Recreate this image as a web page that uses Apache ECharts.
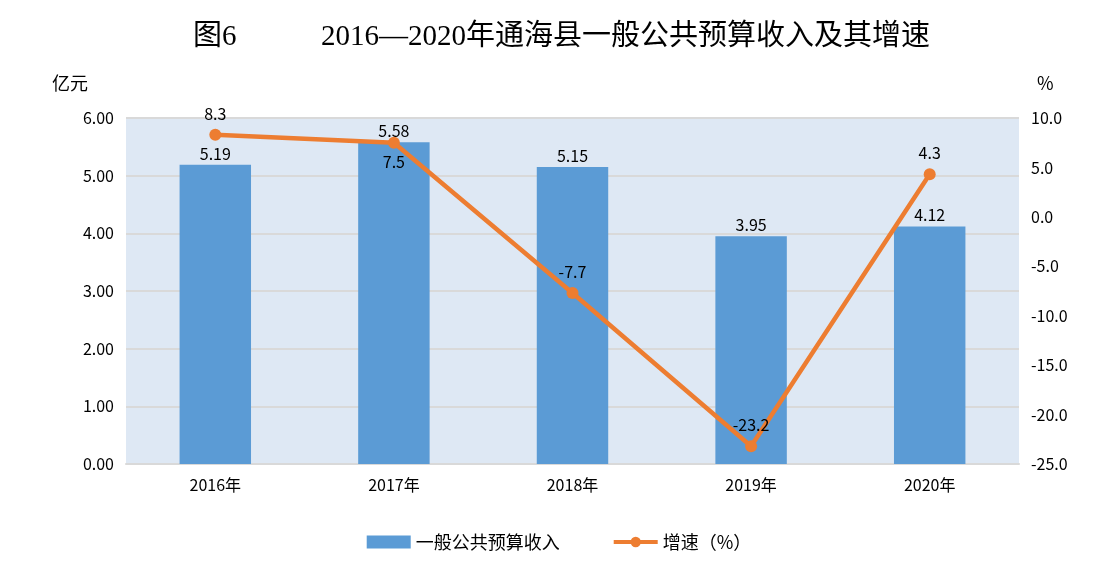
<!DOCTYPE html>
<html><head><meta charset="utf-8">
<script src="https://cdn.jsdelivr.net/npm/echarts@6/dist/echarts.min.js"></script>
<style>html,body{margin:0;padding:0;background:#fff}#c{width:1118px;height:571px}</style>
</head><body><div id="c"></div>
<script>
const categories = ['2016年','2017年','2018年','2019年','2020年'];
const revenue = [5.19, 5.58, 5.15, 3.95, 4.12];
const growth = [8.3, 7.5, -7.7, -23.2, 4.3];
const leftTicks = {min: 0, max: 6, interval: 1};
const rightTicks = {min: -25, max: 10, interval: 5};

const chart = echarts.init(document.getElementById('c'));
const font = '"Noto Sans CJK SC", "Noto Sans", sans-serif';
chart.setOption({
  animation: false,
  title: [
    {text: '图6', left: 188, top: 18, textStyle: {fontFamily: '"Liberation Serif","Noto Sans CJK SC",serif', fontSize: 29, fontWeight: 'normal', color: '#000'}},
    {text: '2016—2020年通海县一般公共预算收入及其增速', left: 316, top: 18, textStyle: {fontFamily: '"Liberation Serif","Noto Sans CJK SC",serif', fontSize: 29, fontWeight: 'normal', color: '#000'}}
  ],
  graphic: [
    {type: 'text', left: 52, top: 74, style: {text: '亿元', font: '18px ' + font, fill: '#000'}},
    {type: 'text', left: 1037, top: 74, style: {text: '%', font: '18px ' + font, fill: '#000'}}
  ],
  grid: {left: 126, right: 99, top: 118, bottom: 107, show: true, backgroundColor: '#DEE8F4', borderWidth: 0},
  legend: {
    bottom: 15, left: 'center', itemGap: 52, itemWidth: 44, itemHeight: 13,
    textStyle: {fontFamily: font, fontSize: 18, color: '#000'},
    data: [
      {name: '一般公共预算收入', icon: 'rect'},
      {name: '增速（%）', itemStyle: {color: '#ED7D31'}, lineStyle: {width: 4, color: '#ED7D31'}}
    ]
  },
  xAxis: {
    type: 'category', data: categories,
    axisLine: {lineStyle: {color: '#D9D9D9', width: 2}},
    axisTick: {show: false},
    axisLabel: {fontFamily: font, fontSize: 16, color: '#000', margin: 13}
  },
  yAxis: [
    {type: 'value', min: leftTicks.min, max: leftTicks.max, interval: leftTicks.interval,
     axisLine: {show: false}, axisTick: {show: false},
     splitLine: {lineStyle: {color: '#D9D9D9', width: 2}},
     axisLabel: {fontFamily: font, fontSize: 16, color: '#000', margin: 12, formatter: v => v.toFixed(2)}},
    {type: 'value', min: rightTicks.min, max: rightTicks.max, interval: rightTicks.interval,
     axisLine: {show: false}, axisTick: {show: false}, splitLine: {show: false},
     axisLabel: {fontFamily: font, fontSize: 16, color: '#000', margin: 12, formatter: v => v.toFixed(1)}}
  ],
  series: [
    {name: '一般公共预算收入', type: 'bar', data: revenue, barWidth: '40%', yAxisIndex: 0,
     itemStyle: {color: '#5B9BD5'},
     label: {show: true, position: 'top', distance: 3, fontFamily: font, fontSize: 16, color: '#000', formatter: p => p.value.toFixed(2)}},
    {name: '增速（%）', type: 'line', data: growth.map((v, i) => i === 1 ? {value: v, label: {position: 'bottom', distance: 5}} : v),
     yAxisIndex: 1, symbol: 'circle', symbolSize: 12,
     lineStyle: {color: '#ED7D31', width: 4.5}, itemStyle: {color: '#ED7D31'},
     label: {show: true, position: 'top', distance: 7, fontFamily: font, fontSize: 16, color: '#000', formatter: p => p.value.toFixed(1)}}
  ]
});
</script></body></html>
